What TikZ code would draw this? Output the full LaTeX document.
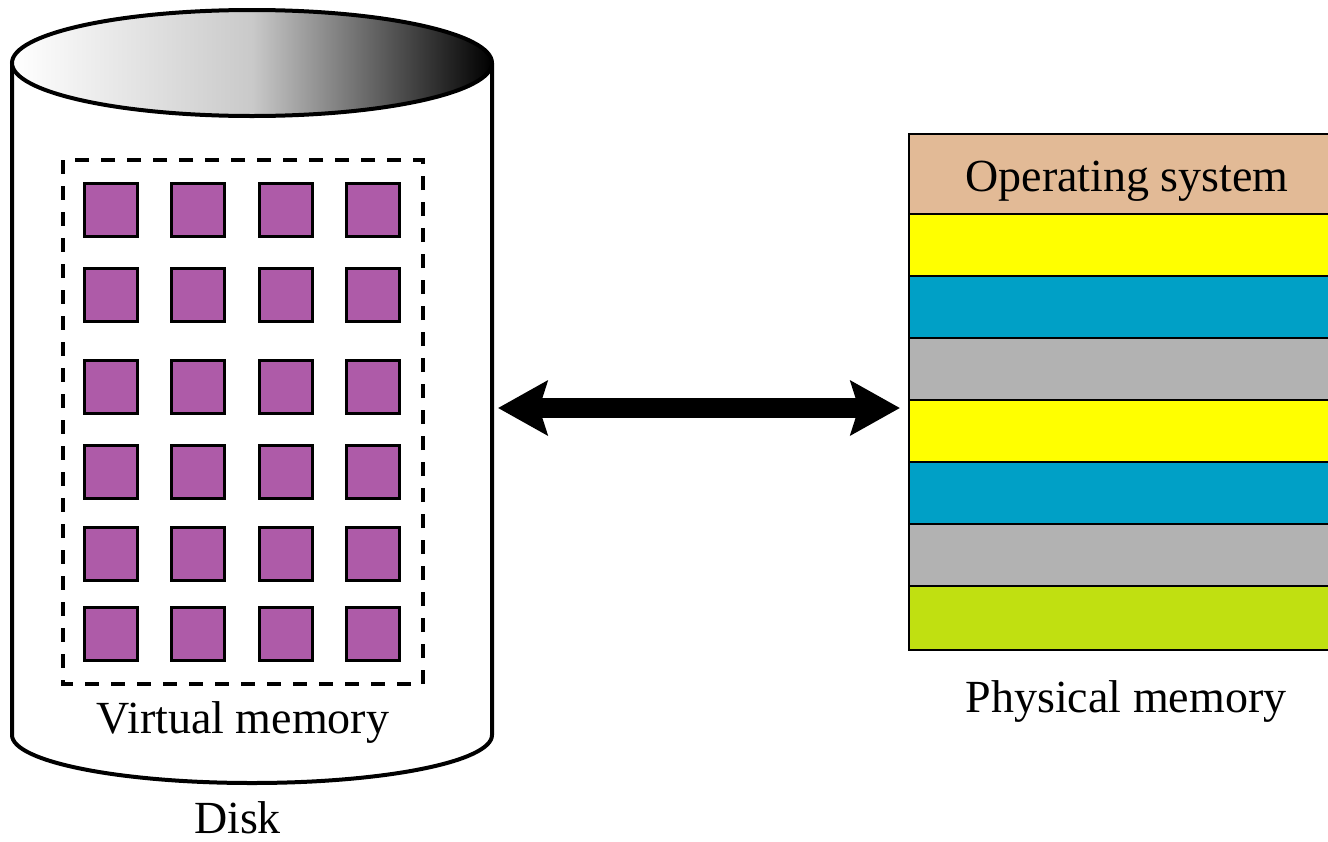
\documentclass[tikz,border=0pt]{standalone}
\usepackage{fontspec}
\setmainfont{Liberation Serif}
\usetikzlibrary{arrows.meta}

\definecolor{ostan}{HTML}{E2BA96}
\definecolor{segyellow}{HTML}{FFFF00}
\definecolor{segblue}{HTML}{00A0C6}
\definecolor{seggray}{HTML}{B2B2B2}
\definecolor{seglime}{HTML}{C0E011}
\definecolor{pagepurple}{HTML}{AE5BA8}

\tikzset{
  lbl/.style={font=\fontsize{46}{55}\selectfont, inner sep=0pt, anchor=base},
  vpage/.style={draw, line width=3pt, fill=pagepurple, minimum size=53pt, inner sep=0pt},
  seg/.style={draw, line width=2.5pt, minimum width=436pt, minimum height=62pt, inner sep=0pt},
  bigarrow/.style={line width=20pt,
    {Stealth[length=50pt,width=56pt,inset=9pt,line width=0pt]}-{Stealth[length=50pt,width=56pt,inset=9pt,line width=0pt]}},
}

\begin{document}
\begin{tikzpicture}[x=1pt, y=1pt, yscale=-1]
\useasboundingbox (0,0) rectangle (1328,841);
\clip (0,0) rectangle (1328,841);

% disk: cylinder body and shaded top
\draw[line width=4pt, fill=white] (12,63) -- (12,735)
  arc[start angle=180, end angle=0, x radius=240, y radius=48] -- (492,63);
\draw[line width=4pt, left color=white, right color=black, middle color=black!21]
  (252,63) ellipse[x radius=240, y radius=53];
\node[inner sep=0pt, minimum width=480pt, minimum height=600pt] (disk) at (252,408) {};

% virtual memory pages
\draw[line width=3.5pt, dash pattern=on 14pt off 12pt] (63,160) rectangle (423,684);
\foreach \yy [count=\r] in {182,267,359,444,526,606}
  \foreach \xx [count=\c] in {83,170,258,345}
    \node[vpage] (p\r\c) at (\xx+28,\yy+28) {};

\node[lbl] (vm) at (243,733) {Virtual memory};
\node[lbl] (disklbl) at (237.5,833) {Disk};

% physical memory stack
\node[seg, fill=ostan, minimum height=80pt, text height=40pt, text depth=6pt,
      font=\fontsize{46}{55}\selectfont] (os) at (1127,174) {Operating system};
\node[seg, fill=segyellow] (r1) at (1127,245) {};
\node[seg, fill=segblue]   (r2) at (1127,307) {};
\node[seg, fill=seggray]   (r3) at (1127,369) {};
\node[seg, fill=segyellow] (r4) at (1127,431) {};
\node[seg, fill=segblue]   (r5) at (1127,493) {};
\node[seg, fill=seggray]   (r6) at (1127,555) {};
\node[seg, fill=seglime, minimum height=64pt] (r7) at (1127,618) {};

\node[lbl] (pm) at (1126,712) {Physical memory};

% transfer between disk and main memory
\coordinate (a) at ([xshift=6pt]disk.east);
\coordinate (b) at ([xshift=-8pt]r4.west |- a);
\draw[bigarrow] (a) -- (b);
\end{tikzpicture}
\end{document}
